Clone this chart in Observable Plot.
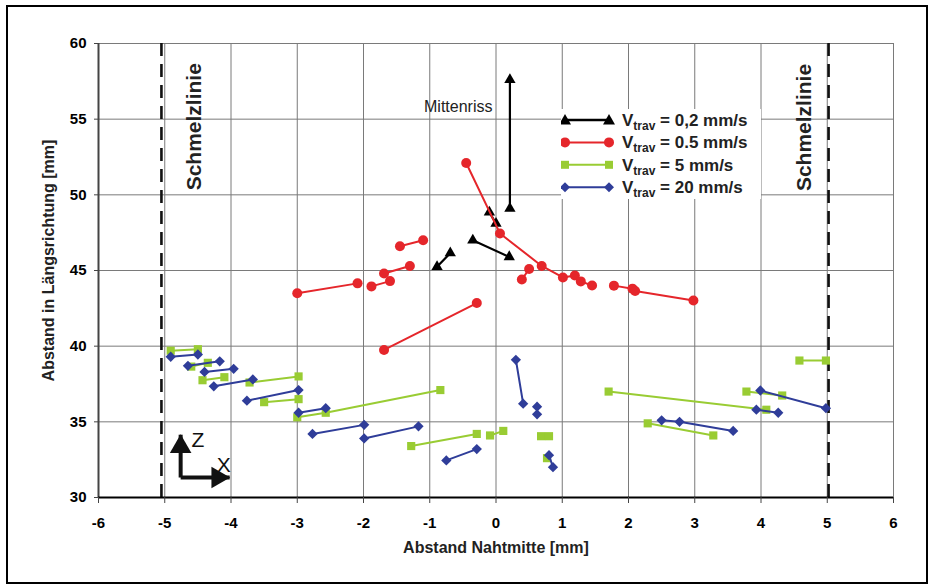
<!DOCTYPE html>
<html><head><meta charset="utf-8">
<script src="https://cdn.jsdelivr.net/npm/d3@7"></script>
<script src="https://cdn.jsdelivr.net/npm/@observablehq/plot@0.6"></script>
<style>
body{margin:0;background:#fff;}
#wrap{position:relative;width:930px;height:587px;font-family:"Liberation Sans",Arial,sans-serif;overflow:hidden;}
#chart{position:absolute;left:0;top:0;}
#frame{position:absolute;left:6px;top:5px;width:918px;height:575px;border:2.5px solid #000;pointer-events:none;}
#legend{position:absolute;left:561px;top:109px;width:200px;height:90px;background:#fff;}
</style></head>
<body><div id="wrap"><div id="chart"></div><div id="legend"></div><div id="frame"></div></div>
<script>
// ---- axes ----
const xTicks = [-6,-5,-4,-3,-2,-1,0,1,2,3,4,5,6];
const yTicks = [30,35,40,45,50,55,60];
const schmelzX = [-5.05, 5.02];

// ---- series ----
const seriesLabels = ["0,2 mm/s", "0.5 mm/s", "5 mm/s", "20 mm/s"];
const seriesColors = ["#000000", "#e5262b", "#99cc33", "#2f3d99"];

// V = 0,2 mm/s (black, triangles)
const blackSeg = [0,0, 1,1, 2,2, 3,3];
const blackX   = [0.21,0.21, -0.10,0.00, -0.35,0.20, -0.89,-0.69];
const blackY   = [49.1,57.6, 48.85,48.1, 47.0,45.9, 45.25,46.15];

// V = 0.5 mm/s (red, circles)
const redSeg = [0,0,0,0,0,0,0, 1,1, 2,2,2,2, 3,3, 4,4, 5,5, 6,6, 7,7];
const redX   = [-0.45,0.06,0.69,1.01,1.19,1.28,1.45, 0.50,0.39, 1.78,2.06,2.10,2.98, -3.0,-2.09, -1.88,-1.60, -1.69,-1.30, -1.45,-1.10, -1.69,-0.29];
const redY   = [52.1,47.45,45.3,44.54,44.67,44.28,44.01, 45.1,44.4, 44.0,43.8,43.65,43.02, 43.5,44.15, 43.95,44.3, 44.8,45.3, 46.6,47.0, 39.75,42.85];

// V = 5 mm/s (green, squares)
const greenSeg = [0,0, 1,1, 2,2, 3,3, 4,4, 5,5,5, 6,6, 7,7, 8,8, 9, 10,10, 11,11, 12,12, 13,13];
const greenX   = [-4.91,-4.50, -4.60,-4.35, -4.43,-4.10, -3.72,-2.98, -3.50,-2.98, -3.00,-2.57,-0.84, -1.28,-0.29, -0.09,0.11, 0.68,0.80, 0.77, 1.70,4.08, 3.78,4.32, 4.58,4.98, 2.29,3.28];
const greenY   = [39.7,39.8, 38.65,38.9, 37.75,37.95, 37.6,38.0, 36.3,36.5, 35.3,35.6,37.1, 33.4,34.2, 34.1,34.4, 34.05,34.05, 32.6, 37.0,35.8, 37.0,36.74, 39.05,39.05, 34.9,34.1];

// V = 20 mm/s (blue, diamonds)
const blueSeg = [0,0, 1,1, 2,2, 3,3, 4,4, 5,5, 6,6, 7,7, 8,8, 9,9, 10,10, 11,11, 12,12, 13,13, 14,14,14];
const blueX   = [-4.91,-4.50, -4.65,-4.17, -4.40,-3.96, -4.26,-3.67, -3.76,-2.98, -2.98,-2.57, -2.77,-1.99, -1.99,-1.17, -0.75,-0.29, 0.30,0.41, 0.62,0.62, 0.80,0.86, 3.93,4.26, 3.99,4.98, 2.50,2.77,3.58];
const blueY   = [39.3,39.45, 38.7,39.0, 38.3,38.5, 37.35,37.8, 36.4,37.1, 35.6,35.9, 34.2,34.8, 33.9,34.7, 32.45,33.2, 39.1,36.2, 36.0,35.5, 32.8,32.0, 35.8,35.6, 37.07,35.9, 35.1,35.0,34.4];

// ---- annotations ----
const labelTexts = ["Schmelzlinie", "Schmelzlinie", "Mittenriss"];
const labelX = [-4.56, 4.65, -0.57];
const labelY = [54.5, 54.45, 55.8];
const iconX0 = -4.76, iconY0 = 31.32, iconTipY = 34.15, iconTipX = -4.02;
const iconLetters = ["Z", "X"];
const iconLetterX = [-4.50, -4.11];
const iconLetterY = [33.77, 32.1];

function rows(seg, xs, ys) { return xs.map((x, i) => ({seg: seg[i], x, y: ys[i]})); }
const black = rows(blackSeg, blackX, blackY);
const red = rows(redSeg, redX, redY);
const green = rows(greenSeg, greenX, greenY);
const blue = rows(blueSeg, blueX, blueY);
const labels = labelTexts.map((t, i) => ({t, x: labelX[i], y: labelY[i]}));
const letters = iconLetters.map((t, i) => ({t, x: iconLetterX[i], y: iconLetterY[i]}));

const FONT = "Liberation Sans, Arial, sans-serif";
const chart = Plot.plot({
  width: 930, height: 587,
  marginLeft: 98, marginRight: 37, marginTop: 43, marginBottom: 90,
  style: {fontFamily: FONT, background: "transparent"},
  x: {domain: [-6, 6]},
  y: {domain: [30, 60]},
  marks: [
    Plot.gridX(xTicks, {stroke: "#7a7a7a", strokeOpacity: 1, strokeWidth: 1}),
    Plot.gridY(yTicks, {stroke: "#7a7a7a", strokeOpacity: 1, strokeWidth: 1}),
    Plot.ruleX(schmelzX, {stroke: "#111", strokeWidth: 2.6, strokeDasharray: "13 8"}),
    Plot.ruleX([-6], {stroke: "#444", strokeWidth: 2}),
    Plot.ruleY([30], {stroke: "#000", strokeWidth: 2.2}),
    Plot.axisX({ticks: xTicks, tickFormat: d => String(d), tickSize: 6, tickPadding: 14, fontSize: 15, fontWeight: "bold", label: null, stroke: "#444"}),
    Plot.axisY({ticks: yTicks, tickFormat: d => String(d), tickSize: 4, tickPadding: 8, fontSize: 15, fontWeight: "bold", label: null, stroke: "#444"}),
    Plot.text(["Abstand Nahtmitte [mm]"], {frameAnchor: "bottom", dy: 55, fontSize: 16, fontWeight: "bold", fill: "#222"}),
    Plot.text(["Abstand in Längsrichtung [mm]"], {frameAnchor: "left", textAnchor: "middle", dx: -50, dy: -10, rotate: -90, fontSize: 16, fontWeight: "bold", fill: "#222"}),
    // data
    Plot.line(black, {x: "x", y: "y", z: "seg", stroke: seriesColors[0], strokeWidth: 2.2}),
    Plot.dot(black, {x: "x", y: "y", symbol: "triangle", r: 4.2, fill: seriesColors[0]}),
    Plot.line(red, {x: "x", y: "y", z: "seg", stroke: seriesColors[1], strokeWidth: 2}),
    Plot.dot(red, {x: "x", y: "y", symbol: "circle", r: 5, fill: seriesColors[1]}),
    Plot.line(green, {x: "x", y: "y", z: "seg", stroke: seriesColors[2], strokeWidth: 2}),
    Plot.dot(green, {x: "x", y: "y", symbol: "square", r: 4.6, fill: seriesColors[2]}),
    Plot.line(blue, {x: "x", y: "y", z: "seg", stroke: seriesColors[3], strokeWidth: 2}),
    Plot.dot(blue, {x: "x", y: "y", symbol: "square", rotate: 45, r: 4.1, fill: seriesColors[3]}),
    // annotations
    Plot.text(labels.slice(0, 2), {x: "x", y: "y", text: "t", rotate: -90, fontSize: 21, fontWeight: "bold", fill: "#222"}),
    Plot.text(labels.slice(2), {x: "x", y: "y", text: "t", fontSize: 16, fill: "#222"}),
    Plot.link([{x1: iconX0, y1: iconY0, x2: iconX0, y2: iconTipY}], {x1: "x1", y1: "y1", x2: "x2", y2: "y2", stroke: "#111", strokeWidth: 4}),
    Plot.link([{x1: iconX0, y1: iconY0, x2: iconTipX, y2: iconY0}], {x1: "x1", y1: "y1", x2: "x2", y2: "y2", stroke: "#111", strokeWidth: 4}),
    Plot.dot([{x: iconX0, y: iconTipY}], {x: "x", y: "y", symbol: "triangle", r: 8, fill: "#111", dy: 12}),
    Plot.dot([{x: iconTipX, y: iconY0}], {x: "x", y: "y", symbol: "triangle", r: 8, fill: "#111", rotate: 90, dx: -12}),
    Plot.text(letters, {x: "x", y: "y", text: "t", fontSize: 21, fill: "#111"})
  ]
});
document.getElementById("chart").appendChild(chart);

// ---- legend ----
const symbols = ["triangle", "circle", "square", "diamond"];
const NS = "http://www.w3.org/2000/svg";
const lsvg = document.createElementNS(NS, "svg");
lsvg.setAttribute("width", 200); lsvg.setAttribute("height", 90);
lsvg.style.fontFamily = FONT;
function marker(sym, cx, cy, color) {
  let el;
  if (sym === "circle") { el = document.createElementNS(NS, "circle"); el.setAttribute("cx", cx); el.setAttribute("cy", cy); el.setAttribute("r", 5); }
  else if (sym === "square") { el = document.createElementNS(NS, "rect"); el.setAttribute("x", cx - 4); el.setAttribute("y", cy - 4); el.setAttribute("width", 8); el.setAttribute("height", 8); }
  else if (sym === "diamond") { el = document.createElementNS(NS, "path"); el.setAttribute("d", `M${cx},${cy-5}L${cx+5},${cy}L${cx},${cy+5}L${cx-5},${cy}Z`); }
  else { el = document.createElementNS(NS, "path"); el.setAttribute("d", `M${cx},${cy-6}L${cx+6},${cy+4.5}L${cx-6},${cy+4.5}Z`); }
  el.setAttribute("fill", color);
  lsvg.appendChild(el);
}
seriesLabels.forEach((lab, i) => {
  const cy = 11 + i * 22.4;
  const ln = document.createElementNS(NS, "line");
  ln.setAttribute("x1", 4); ln.setAttribute("x2", 48); ln.setAttribute("y1", cy); ln.setAttribute("y2", cy);
  ln.setAttribute("stroke", seriesColors[i]); ln.setAttribute("stroke-width", i === 0 ? 2.4 : 2);
  lsvg.appendChild(ln);
  marker(symbols[i], 4, cy, seriesColors[i]);
  marker(symbols[i], 48, cy, seriesColors[i]);
  const t = document.createElementNS(NS, "text");
  t.setAttribute("x", 61); t.setAttribute("y", cy + 6);
  t.setAttribute("font-size", 17); t.setAttribute("font-weight", "bold"); t.setAttribute("fill", "#222");
  t.innerHTML = `V<tspan font-size="12" dy="4">trav</tspan><tspan dy="-4"> = ${lab}</tspan>`;
  lsvg.appendChild(t);
});
document.getElementById("legend").appendChild(lsvg);
</script>
</body></html>
